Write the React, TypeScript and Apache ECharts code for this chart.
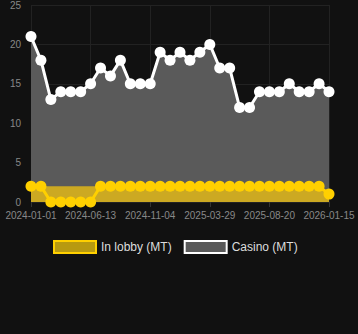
import React, { useEffect, useRef } from "react";
import * as echarts from "echarts";

const dates = [
  "2024-01-01", "2024-01-28", "2024-02-24", "2024-03-23", "2024-04-19", "2024-05-17",
  "2024-06-13", "2024-07-07", "2024-07-31", "2024-08-24", "2024-09-17", "2024-10-11",
  "2024-11-04", "2024-11-28", "2024-12-22", "2025-01-15", "2025-02-10", "2025-03-06",
  "2025-03-29", "2025-04-22", "2025-05-16", "2025-06-09", "2025-07-03", "2025-07-27",
  "2025-08-20", "2025-09-13", "2025-10-07", "2025-10-31", "2025-11-24", "2025-12-19",
  "2026-01-15",
];
const casino = [21, 18, 13, 14, 14, 14, 15, 17, 16, 18, 15, 15, 15, 19, 18, 19, 18, 19, 20, 17, 17, 12, 12, 14, 14, 14, 15, 14, 14, 15, 14];
const lobby = [2, 2, 0, 0, 0, 0, 0, 2, 2, 2, 2, 2, 2, 2, 2, 2, 2, 2, 2, 2, 2, 2, 2, 2, 2, 2, 2, 2, 2, 2, 1];
const lobbyBand = [2, 2, 2, 2, 2, 2, 2, 2, 2, 2, 2, 2, 2, 2, 2, 2, 2, 2, 2, 2, 2, 2, 2, 2, 2, 2, 2, 2, 2, 2, 1];
const yTicks = [0, 5, 10, 15, 20, 25];

export default function App() {
  const ref = useRef<HTMLDivElement>(null);
  useEffect(() => {
    if (!ref.current) return;
    const chart = echarts.init(ref.current, null, { renderer: "svg" });
    chart.setOption({
      animation: false,
      backgroundColor: "#111111",
      textStyle: { fontFamily: "Arial, Liberation Sans, sans-serif" },
      grid: { left: 31, right: 29, top: 5, bottom: 132, containLabel: false },
      legend: {
        left: 48,
        top: 235,
        icon: "rect",
        itemWidth: 42,
        itemHeight: 12,
        itemGap: 12,
        textStyle: { color: "#dddddd", fontSize: 12 },
        data: [
          { name: "In lobby (MT)", itemStyle: { color: "#b89a10", borderColor: "#ffd000", borderWidth: 2 } },
          { name: "Casino (MT)", itemStyle: { color: "#5a5a5a", borderColor: "#ffffff", borderWidth: 2 } },
        ],
      },
      xAxis: {
        type: "category",
        data: dates,
        boundaryGap: false,
        axisLine: { show: false },
        axisTick: { show: true, interval: 5, lineStyle: { color: "#333333" } },
        axisLabel: { color: "#888888", fontSize: 10, interval: 5, margin: 8 },
        splitLine: { show: true, interval: 5, lineStyle: { color: "#222222" } },
      },
      yAxis: {
        type: "value",
        min: yTicks[0],
        max: yTicks[yTicks.length - 1],
        interval: 5,
        axisLine: { show: false },
        axisTick: { show: false },
        axisLabel: { color: "#888888", fontSize: 10, margin: 10 },
        splitLine: { show: true, lineStyle: { color: "#222222" } },
      },
      series: [
        {
          name: "Casino (MT)",
          type: "line",
          data: casino,
          z: 1,
          symbol: "circle",
          symbolSize: 11,
          showSymbol: true,
          showAllSymbol: true,
          lineStyle: { color: "#ffffff", width: 3 },
          itemStyle: { color: "#ffffff" },
          areaStyle: { color: "#5a5a5a", opacity: 1 },
        },
        {
          name: "In lobby (MT)",
          type: "line",
          data: lobbyBand,
          z: 2,
          symbol: "none",
          lineStyle: { width: 0, opacity: 0 },
          areaStyle: { color: "#cca922", opacity: 1 },
          silent: true,
        },
        {
          name: "In lobby (MT)",
          type: "line",
          data: lobby,
          z: 3,
          symbol: "circle",
          symbolSize: 11,
          showSymbol: true,
          showAllSymbol: true,
          lineStyle: { color: "#ffd000", width: 3 },
          itemStyle: { color: "#ffd000" },
        },
      ],
    });
    return () => chart.dispose();
  }, []);
  return <div ref={ref} style={{ width: 358, height: 334, position: "absolute", left: 0, top: 0 }} />;
}
